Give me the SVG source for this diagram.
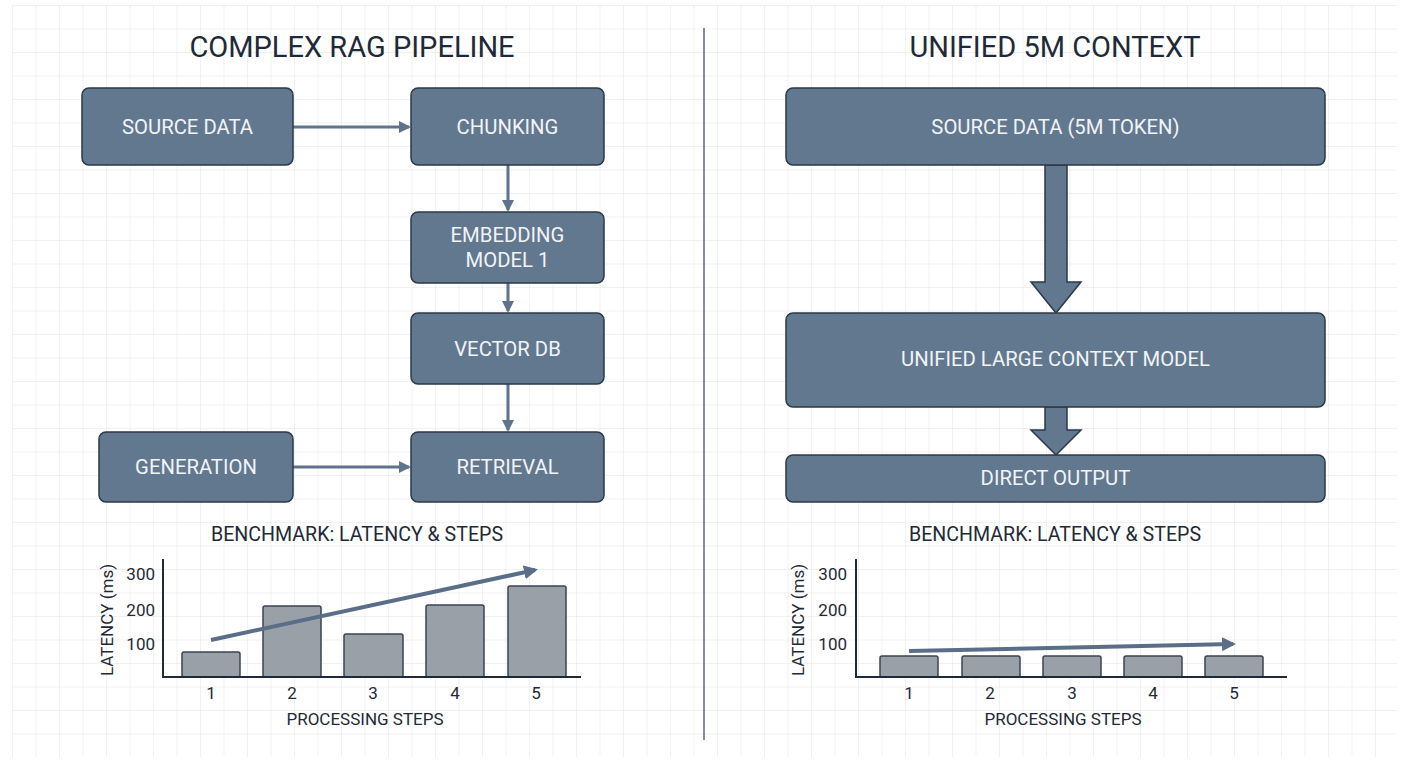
<svg xmlns="http://www.w3.org/2000/svg" width="1408" height="768" viewBox="0 0 1408 768">
<style>
.node rect{fill:#62788f;stroke:#2b3948;stroke-width:1.5}
.nt{font-family:Roboto,"Liberation Sans",sans-serif;font-size:20.3px;fill:#f1f4f7;text-anchor:middle}
.title{font-family:Roboto,"Liberation Sans",sans-serif;font-size:29px;fill:#1e2a37;text-anchor:middle}
.sub{font-family:Roboto,"Liberation Sans",sans-serif;font-size:19.6px;fill:#1e2a37;text-anchor:middle}
.ax{font-family:Roboto,"Liberation Sans",sans-serif;font-size:17px;fill:#1e2a37}
.conn{stroke:#5f738b;stroke-width:3;fill:none}
.bar{fill:#9aa0a8;stroke:#3a4452;stroke-width:1.5}
.axis{stroke:#1e2a37;stroke-width:2;fill:none}
.trend{stroke:#5a6e88;stroke-width:4;fill:none}
.big{fill:#62788f;stroke:#2b3948;stroke-width:1.5}
</style>
<defs>
<pattern id="grid" x="12" y="5" width="23.5" height="23.5" patternUnits="userSpaceOnUse">
<path d="M0 0H23.5M0 0V23.5" stroke="#e1e4e7" stroke-width="1" fill="none"/>
</pattern>
<marker id="ah" markerWidth="12" markerHeight="12" refX="10" refY="6" orient="auto" markerUnits="userSpaceOnUse" viewBox="0 0 12 12">
<path d="M0 0L12 6L0 12Z" fill="#5f738b"/>
</marker>
<marker id="th" markerWidth="14" markerHeight="14" refX="11" refY="7" orient="auto" markerUnits="userSpaceOnUse" viewBox="0 0 14 14">
<path d="M0 0L14 7L0 14Z" fill="#5a6e88"/>
</marker>
</defs>
<rect width="1408" height="768" fill="#ffffff"/>
<rect x="12" y="5" width="1385" height="752" fill="url(#grid)"/>
<line x1="704" y1="28" x2="704" y2="740" stroke="#5a6878" stroke-width="1.5"/>

<text class="title" x="352" y="57">COMPLEX RAG PIPELINE</text>
<text class="title" x="1055" y="57">UNIFIED 5M CONTEXT</text>

<g id="connectors">
<line class="conn" x1="293" y1="127" x2="409" y2="127" marker-end="url(#ah)"/>
<line class="conn" x1="508" y1="165" x2="508" y2="210" marker-end="url(#ah)"/>
<line class="conn" x1="508" y1="283" x2="508" y2="311" marker-end="url(#ah)"/>
<line class="conn" x1="508" y1="384" x2="508" y2="430" marker-end="url(#ah)"/>
<line class="conn" x1="293" y1="467" x2="409" y2="467" marker-end="url(#ah)"/>
<path class="big" d="M1045 165V282H1031L1056 313L1081 282H1067V165Z"/>
<path class="big" d="M1045 407V430H1031L1056 455L1081 430H1067V407Z"/>
</g>

<g id="source-data" class="node"><rect x="82" y="88" width="211" height="77" rx="7"/><text class="nt" x="187.5" y="134">SOURCE DATA</text></g>
<g id="chunking" class="node"><rect x="411" y="88" width="193" height="77" rx="7"/><text class="nt" x="507.5" y="134">CHUNKING</text></g>
<g id="embedding" class="node"><rect x="411" y="212" width="193" height="71" rx="7"/><text class="nt" x="507.5" y="242">EMBEDDING</text><text class="nt" x="507.5" y="267">MODEL 1</text></g>
<g id="vector-db" class="node"><rect x="411" y="313" width="193" height="71" rx="7"/><text class="nt" x="507.5" y="356">VECTOR DB</text></g>
<g id="retrieval" class="node"><rect x="411" y="432" width="193" height="70" rx="7"/><text class="nt" x="507.5" y="474">RETRIEVAL</text></g>
<g id="generation" class="node"><rect x="99" y="432" width="194" height="70" rx="7"/><text class="nt" x="196" y="474">GENERATION</text></g>

<g id="source-5m" class="node"><rect x="786" y="88" width="539" height="77" rx="7"/><text class="nt" x="1055.5" y="134">SOURCE DATA (5M TOKEN)</text></g>
<g id="unified-model" class="node"><rect x="786" y="313" width="539" height="94" rx="7"/><text class="nt" x="1055.5" y="366">UNIFIED LARGE CONTEXT MODEL</text></g>
<g id="direct-output" class="node"><rect x="786" y="455" width="539" height="47" rx="7"/><text class="nt" x="1055.5" y="485">DIRECT OUTPUT</text></g>

<g id="chart-left">
<text class="sub" x="357" y="541">BENCHMARK: LATENCY &amp; STEPS</text>
<rect class="bar" x="182" y="652" width="58" height="25" rx="2"/>
<rect class="bar" x="263" y="606" width="58" height="71" rx="2"/>
<rect class="bar" x="344" y="634" width="59" height="43" rx="2"/>
<rect class="bar" x="426" y="605" width="58" height="72" rx="2"/>
<rect class="bar" x="508" y="586" width="58" height="91" rx="2"/>
<path class="axis" d="M163 559V677H581"/>
<text class="ax" x="155" y="580" text-anchor="end">300</text>
<text class="ax" x="155" y="616" text-anchor="end">200</text>
<text class="ax" x="155" y="650" text-anchor="end">100</text>
<text class="ax" transform="translate(113 620) rotate(-90)" text-anchor="middle">LATENCY (ms)</text>
<text class="ax" x="211" y="699" text-anchor="middle">1</text>
<text class="ax" x="292" y="699" text-anchor="middle">2</text>
<text class="ax" x="373" y="699" text-anchor="middle">3</text>
<text class="ax" x="455" y="699" text-anchor="middle">4</text>
<text class="ax" x="536" y="699" text-anchor="middle">5</text>
<text class="ax" x="365" y="725" text-anchor="middle">PROCESSING STEPS</text>
<line class="trend" x1="211" y1="640" x2="535" y2="570" marker-end="url(#th)"/>
</g>

<g id="chart-right">
<text class="sub" x="1055" y="541">BENCHMARK: LATENCY &amp; STEPS</text>
<rect class="bar" x="880" y="656" width="58" height="21" rx="2"/>
<rect class="bar" x="962" y="656" width="58" height="21" rx="2"/>
<rect class="bar" x="1043" y="656" width="58" height="21" rx="2"/>
<rect class="bar" x="1124" y="656" width="58" height="21" rx="2"/>
<rect class="bar" x="1205" y="656" width="58" height="21" rx="2"/>
<path class="axis" d="M856 559V677H1287"/>
<text class="ax" x="847" y="580" text-anchor="end">300</text>
<text class="ax" x="847" y="616" text-anchor="end">200</text>
<text class="ax" x="847" y="650" text-anchor="end">100</text>
<text class="ax" transform="translate(804 620) rotate(-90)" text-anchor="middle">LATENCY (ms)</text>
<text class="ax" x="909" y="699" text-anchor="middle">1</text>
<text class="ax" x="990" y="699" text-anchor="middle">2</text>
<text class="ax" x="1072" y="699" text-anchor="middle">3</text>
<text class="ax" x="1153" y="699" text-anchor="middle">4</text>
<text class="ax" x="1234" y="699" text-anchor="middle">5</text>
<text class="ax" x="1063" y="725" text-anchor="middle">PROCESSING STEPS</text>
<line class="trend" x1="909" y1="651" x2="1233" y2="644" marker-end="url(#th)"/>
</g>
</svg>
